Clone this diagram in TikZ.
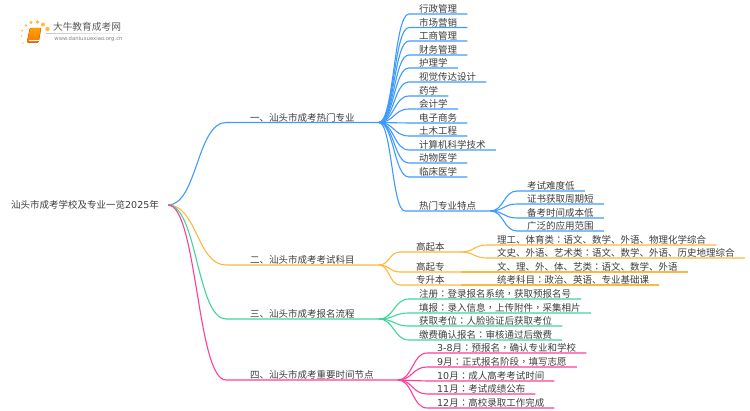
\documentclass[tikz,border=0pt]{standalone}
\usepackage{fontspec}
\usetikzlibrary{calc}
\setmainfont{Noto Sans CJK SC}
\newfontfamily\latfont{DejaVu Sans}
\newfontfamily\twfont{Noto Sans CJK TC}
\newcommand{\cl}{{\twfont ：}}
\newcommand{\cm}{{\twfont ，}}
\definecolor{bluel}{HTML}{3D9BFF}
\definecolor{orangel}{HTML}{FDB83E}
\definecolor{greenl}{HTML}{3ED69A}
\definecolor{pinkl}{HTML}{FF3E98}
\definecolor{inkc}{HTML}{3C3C3C}
\tikzset{
    txt/.style={anchor=south west, text=inkc, inner ysep=0.4pt, inner xsep=10pt, text height=8pt, text depth=0.6pt, font=\fontsize{9.5}{11}\selectfont},
    branch/.style={txt, inner xsep=24pt},
    second/.style={txt, inner xsep=16pt},
    link/.style={line width=1.1pt, to path={let \p1=(\tikztostart), \p2=(\tikztotarget) in
        .. controls ({0.5*\x1+0.5*\x2},\y1) and ({0.5*\x1+0.5*\x2},\y2) .. (\tikztotarget)}},
    dotl/.style={fill=#1, draw=none, circle, inner sep=0pt, minimum size=4pt},
}
\begin{document}
\begin{tikzpicture}[x=1pt, y=-1pt]
    \useasboundingbox (0,0) rectangle (750,410);
    % logo
    \node[dotl=orangel!70, minimum size=1.6pt] (d1) at (23,43) {};
    \node[dotl=orangel!70, minimum size=2pt] (d2) at (21.5,36) {};
    \node[dotl=orangel!80, minimum size=2.4pt] (d3) at (22,30.5) {};
    \node[dotl=orangel!90, minimum size=2.8pt] (d4) at (26,25.5) {};
    \node[dotl=orangel, minimum size=3.4pt] (d5) at (31,22.5) {};
    \node[dotl=orangel, minimum size=3.6pt] (d6) at (37.5,22) {};
    \node[dotl=orangel, minimum size=4pt] (d7) at (43,24.5) {};
    \node[dotl=orangel, minimum size=4.4pt] (d8) at (47.5,29) {};
    \fill[rounded corners=1pt, top color=orange!70!yellow, bottom color=orange!90!red, draw=orange!70!red, line width=0.4pt]
        (30,28) -- (41,28) -- (38.5,42.5) -- (27,42.5) -- cycle;
    \draw[white, line width=0.5pt] (28.5,40) -- (38.8,40);
    \node[inner sep=0pt, text=inkc!85, font=\fontsize{9.7}{11}\selectfont] (logotitle) at (87,27) {大牛教育成考网};
    \node[inner sep=0pt, text=gray, font=\latfont\fontsize{5.3}{6}\selectfont] (logourl) at (88.5,39) {www.daniuxuexiao.org.cn};
    \shade[left color=gray!45, right color=white] (46,33) rectangle (133,33.7);

    % root and first level
    \node[txt, anchor=west, inner xsep=9pt, inner ysep=0pt] (root) at (2,205) {汕头市成考学校及专业一览{\latfont 2025}年};
    \node[branch] (hot) at (226,122.5) {一、汕头市成考热门专业};
    \node[branch] (exam) at (226,265) {二、汕头市成考考试科目};
    \node[branch] (apply) at (226,319) {三、汕头市成考报名流程};
    \node[branch] (time) at (226,380) {四、汕头市成考重要时间节点};
    \draw[link, bluel] (root.east) to (hot.south west) -- (hot.south east);
    \draw[link, orangel] (root.east) to (exam.south west) -- (exam.south east);
    \draw[link, greenl] (root.east) to (apply.south west) -- (apply.south east);
    \draw[link, pinkl] (root.east) to (time.south west) -- (time.south east);

    % hot majors
    \node[txt] (m1) at (409,14) {行政管理};
    \node[txt] (m2) at (409,27.5) {市场营销};
    \node[txt] (m3) at (409,41) {工商管理};
    \node[txt] (m4) at (409,55) {财务管理};
    \node[txt] (m5) at (409,68) {护理学};
    \node[txt] (m6) at (409,82) {视觉传达设计};
    \node[txt] (m7) at (409,96) {药学};
    \node[txt] (m8) at (409,109) {会计学};
    \node[txt] (m9) at (409,123) {电子商务};
    \node[txt] (m10) at (409,136) {土木工程};
    \node[txt] (m11) at (409,150) {计算机科学技术};
    \node[txt] (m12) at (409,163) {动物医学};
    \node[txt] (m13) at (409,177) {临床医学};
    \node[txt, inner xsep=14pt] (feat) at (405,211) {热门专业特点};
    \draw[link, bluel] (hot.south east) to (m1.south west) -- (m1.south east);
    \draw[link, bluel] (hot.south east) to (m2.south west) -- (m2.south east);
    \draw[link, bluel] (hot.south east) to (m3.south west) -- (m3.south east);
    \draw[link, bluel] (hot.south east) to (m4.south west) -- (m4.south east);
    \draw[link, bluel] (hot.south east) to (m5.south west) -- (m5.south east);
    \draw[link, bluel] (hot.south east) to (m6.south west) -- (m6.south east);
    \draw[link, bluel] (hot.south east) to (m7.south west) -- (m7.south east);
    \draw[link, bluel] (hot.south east) to (m8.south west) -- (m8.south east);
    \draw[link, bluel] (hot.south east) to (m9.south west) -- (m9.south east);
    \draw[link, bluel] (hot.south east) to (m10.south west) -- (m10.south east);
    \draw[link, bluel] (hot.south east) to (m11.south west) -- (m11.south east);
    \draw[link, bluel] (hot.south east) to (m12.south west) -- (m12.south east);
    \draw[link, bluel] (hot.south east) to (m13.south west) -- (m13.south east);
    \draw[link, bluel] (hot.south east) to (feat.south west) -- (feat.south east);

    % features
    \node[txt] (f1) at (517,191) {考试难度低};
    \node[txt] (f2) at (517,204) {证书获取周期短};
    \node[txt] (f3) at (517,218) {备考时间成本低};
    \node[txt] (f4) at (517,231) {广泛的应用范围};
    \draw[link, bluel] (feat.south east) to (f1.south west) -- (f1.south east);
    \draw[link, bluel] (feat.south east) to (f2.south west) -- (f2.south east);
    \draw[link, bluel] (feat.south east) to (f3.south west) -- (f3.south east);
    \draw[link, bluel] (feat.south east) to (f4.south west) -- (f4.south east);

    % exam subjects
    \node[second] (gqb) at (400,252) {高起本};
    \node[second] (gqz) at (400,272) {高起专};
    \node[second] (zsb) at (400,285) {专升本};
    \node[txt] (s1) at (487,245) {理工、体育类\cl 语文、数学、外语、物理化学综合};
    \node[txt] (s2) at (487,258) {文史、外语、艺术类\cl 语文、数学、外语、历史地理综合};
    \node[txt] (s3) at (487,272) {文、理、外、体、艺类\cl 语文、数学、外语};
    \node[txt] (s4) at (487,285) {统考科目\cl 政治、英语、专业基础课};
    \draw[link, orangel] (exam.south east) to (gqb.south west) -- (gqb.south east);
    \draw[link, orangel] (exam.south east) to (gqz.south west) -- (gqz.south east);
    \draw[link, orangel] (exam.south east) to (zsb.south west) -- (zsb.south east);
    \draw[link, orangel] (gqb.south east) to (s1.south west) -- (s1.south east);
    \draw[link, orangel] (gqb.south east) to (s2.south west) -- (s2.south east);
    \draw[line width=1.1pt, orangel] (gqz.south east) -- (s3.south west) -- (s3.south east);
    \draw[line width=1.1pt, orangel] (zsb.south east) -- (s4.south west) -- (s4.south east);

    % application steps
    \node[txt] (a1) at (409,299) {注册\cl 登录报名系统\cm 获取预报名号};
    \node[txt] (a2) at (409,313) {填报\cl 录入信息\cm 上传附件\cm 采集相片};
    \node[txt] (a3) at (409,326) {获取考位\cl 人脸验证后获取考位};
    \node[txt] (a4) at (409,340) {缴费确认报名\cl 审核通过后缴费};
    \draw[link, greenl] (apply.south east) to (a1.south west) -- (a1.south east);
    \draw[link, greenl] (apply.south east) to (a2.south west) -- (a2.south east);
    \draw[link, greenl] (apply.south east) to (a3.south west) -- (a3.south east);
    \draw[link, greenl] (apply.south east) to (a4.south west) -- (a4.south east);

    % key dates
    \node[txt] (t1) at (427,353) {{\latfont 3-8}月\cl 预报名\cm 确认专业和学校};
    \node[txt] (t2) at (427,367) {{\latfont 9}月\cl 正式报名阶段\cm 填写志愿};
    \node[txt] (t3) at (427,381) {{\latfont 10}月\cl 成人高考考试时间};
    \node[txt] (t4) at (427,394) {{\latfont 11}月\cl 考试成绩公布};
    \node[txt] (t5) at (427,408) {{\latfont 12}月\cl 高校录取工作完成};
    \draw[link, pinkl] (time.south east) to (t1.south west) -- (t1.south east);
    \draw[link, pinkl] (time.south east) to (t2.south west) -- (t2.south east);
    \draw[link, pinkl] (time.south east) to (t3.south west) -- (t3.south east);
    \draw[link, pinkl] (time.south east) to (t4.south west) -- (t4.south east);
    \draw[link, pinkl] (time.south east) to (t5.south west) -- (t5.south east);
\end{tikzpicture}
\end{document}
